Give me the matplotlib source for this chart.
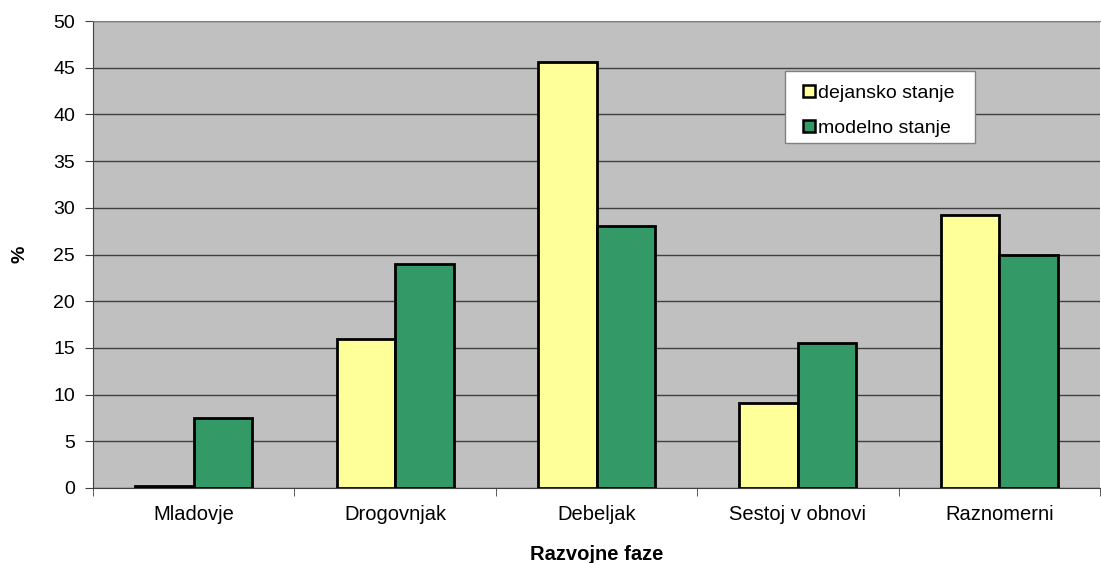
import matplotlib
matplotlib.use("Agg")
import matplotlib.pyplot as plt
from matplotlib.patches import Rectangle
import numpy as np

categories = ["Mladovje", "Drogovnjak", "Debeljak", "Sestoj v obnovi", "Raznomerni"]
dejansko = [0.2, 15.9, 45.6, 9.1, 29.2]
modelno = [7.5, 24.0, 28.0, 15.5, 25.0]
series_names = ["dejansko stanje", "modelno stanje"]
yticks = list(range(0, 51, 5))

plt.rcParams["font.family"] = ["Liberation Sans", "DejaVu Sans"]

W, H = 1101, 563
fig = plt.figure(figsize=(W / 100, H / 100), dpi=100)
ax = fig.add_axes([93 / W, 1 - 488 / H, 1007 / W, 467 / H])
ax.set_facecolor("#C0C0C0")

x = np.arange(len(categories))
w = 0.29
ax.bar(x - w / 2, dejansko, width=w, color="#FFFF99", edgecolor="black",
       linewidth=2, label=series_names[0], zorder=3)
ax.bar(x + w / 2, modelno, width=w, color="#339966", edgecolor="black",
       linewidth=2, label=series_names[1], zorder=3)

ax.set_xlim(-0.5, len(categories) - 0.5)
ax.set_ylim(0, 50)
ax.set_yticks(yticks)
ax.set_yticklabels([str(t) for t in yticks], fontsize=14)
ax.yaxis.grid(True, color="#404040", linewidth=1)
ax.set_axisbelow(True)

ax.set_xticks(x)
ax.set_xticklabels(categories, fontsize=14.5)
ax.tick_params(axis="x", length=0, pad=12)
ax.set_xticks(np.arange(len(categories) + 1) - 0.5, minor=True)
ax.tick_params(axis="x", which="minor", length=6, direction="out", color="#404040")
ax.tick_params(axis="y", length=6, direction="out", color="#404040", pad=7)

ax.spines["right"].set_visible(False)
ax.spines["top"].set_color("#808080")
ax.spines["left"].set_color("#404040")
ax.spines["bottom"].set_color("#404040")

ax.set_ylabel("%", fontsize=14, fontweight="bold", labelpad=18)
ax.set_xlabel("Razvojne faze", fontsize=14.5, fontweight="bold", labelpad=15)

# legend panel: white box with a thin gray border, entries drawn on top
box = Rectangle((785 / W, 1 - 143 / H), 190 / W, 72 / H, transform=fig.transFigure,
                facecolor="white", edgecolor="#808080", linewidth=1, zorder=4,
                clip_on=False)
ax.add_patch(box)

leg = ax.legend(loc="upper left", bbox_to_anchor=((803 - 93) / 1007, 1 - (85 - 21) / 467),
                fontsize=14, frameon=False, borderpad=0,
                handlelength=0.6, handleheight=0.6, handletextpad=0.15,
                labelspacing=0.9, borderaxespad=0)
leg.set_zorder(5)
for h in leg.legend_handles:
    h.set_linewidth(1.8)

fig.savefig("out.png", dpi=100, facecolor="white")
